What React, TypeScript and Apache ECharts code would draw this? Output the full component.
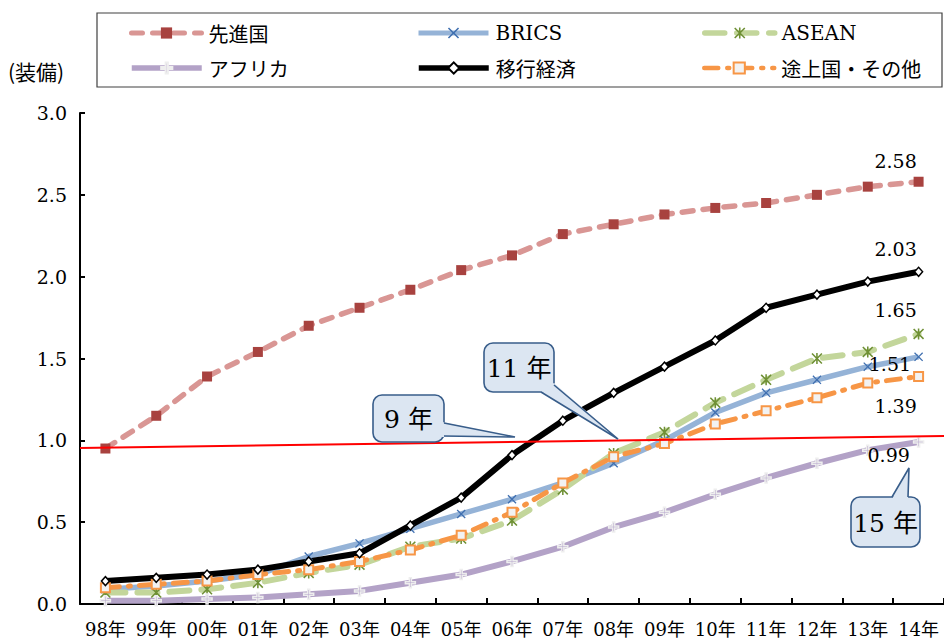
import React, { useEffect, useRef } from "react";
import * as echarts from "echarts";

const categories = ["98年", "99年", "00年", "01年", "02年", "03年", "04年", "05年", "06年", "07年", "08年", "09年", "10年", "11年", "12年", "13年", "14年"];
const developed = [0.95, 1.15, 1.39, 1.54, 1.70, 1.81, 1.92, 2.04, 2.13, 2.26, 2.32, 2.38, 2.42, 2.45, 2.50, 2.55, 2.58];
const brics = [0.09, 0.11, 0.14, 0.18, 0.29, 0.37, 0.46, 0.55, 0.64, 0.74, 0.86, 1.00, 1.17, 1.29, 1.37, 1.45, 1.51];
const asean = [0.07, 0.07, 0.09, 0.13, 0.19, 0.24, 0.35, 0.40, 0.51, 0.70, 0.92, 1.05, 1.23, 1.37, 1.50, 1.54, 1.65];
const africa = [0.02, 0.02, 0.03, 0.04, 0.06, 0.08, 0.13, 0.18, 0.26, 0.35, 0.47, 0.56, 0.67, 0.77, 0.86, 0.94, 0.99];
const transition = [0.14, 0.16, 0.18, 0.21, 0.26, 0.31, 0.48, 0.65, 0.91, 1.12, 1.29, 1.45, 1.61, 1.81, 1.89, 1.97, 2.03];
const developing = [0.10, 0.12, 0.14, 0.18, 0.21, 0.26, 0.33, 0.42, 0.56, 0.74, 0.90, 0.98, 1.10, 1.18, 1.26, 1.35, 1.39];
const yTicks = [0, 0.5, 1.0, 1.5, 2.0, 2.5, 3.0];

const seriesNames = ["先進国", "BRICS", "ASEAN", "アフリカ", "移行経済", "途上国・その他"];
const calloutTexts = ["9 年", "11 年", "15 年"];
const unitLabel = "(装備)";

const SERIF = '"DejaVu Serif", "Noto Sans CJK JP", serif';
const CJK = '"Noto Sans CJK JP", sans-serif';

const X_PATH = "path://M0,1 L1,0 L5,4 L9,0 L10,1 L6,5 L10,9 L9,10 L5,6 L1,10 L0,9 L4,5 Z";
const STAR_PATH =
  "path://M0,1 L1,0 L5,4 L9,0 L10,1 L6,5 L10,9 L9,10 L5,6 L1,10 L0,9 L4,5 Z M4.3,0 L5.7,0 L5.7,10 L4.3,10 Z";
const PLUS_PATH = "path://M4,0 L6,0 L6,4 L10,4 L10,6 L6,6 L6,10 L4,10 L4,6 L0,6 L0,4 L4,4 Z";

function lastLabel(values: number[], label: any) {
  return values.map((v, i) =>
    i === values.length - 1 ? { value: v, label: { show: true, ...label } } : v
  );
}

const labelFont = { fontFamily: SERIF, fontSize: 19, color: "#000" };

function callout(
  box: [number, number, number, number],
  text: string,
  fillPoly: number[][],
  sides: number[][]
) {
  const [x, y, w, h] = box;
  const stroke = "#385d8a";
  const fill = "#dce6f2";
  return [
    {
      type: "rect",
      shape: { x, y, width: w, height: h, r: 9 },
      style: { fill, stroke, lineWidth: 1.6 },
      z: 100,
    },
    {
      type: "polygon",
      shape: { points: fillPoly },
      style: { fill, stroke: "none" },
      z: 101,
    },
    {
      type: "polyline",
      shape: { points: sides },
      style: { fill: "none", stroke, lineWidth: 1.6 },
      z: 102,
    },
    {
      type: "text",
      x: x + w / 2,
      y: y + h / 2 + 1,
      style: {
        text,
        fontFamily: SERIF,
        fontSize: 25,
        fill: "#000",
        align: "center",
        verticalAlign: "middle",
      },
      z: 103,
    },
  ];
}

export default function App() {
  const ref = useRef<HTMLDivElement>(null);

  useEffect(() => {
    if (!ref.current) return;
    const chart = echarts.init(ref.current, null, { renderer: "svg" });

    const legendPos: [number, number][] = [
      [124, 18],
      [411, 18],
      [697, 18],
      [124, 53],
      [411, 53],
      [697, 53],
    ];
    const legendLineWidth = [5, 5, 5.5, 5.5, 5.5, 4.5];
    const legends = seriesNames.map((name, i) => ({
      data: [name],
      left: legendPos[i][0],
      top: legendPos[i][1],
      itemWidth: 70,
      itemHeight: 14,
      itemGap: 0,
      selectedMode: false,
      lineStyle: { width: legendLineWidth[i] },
      textStyle: { fontFamily: i === 1 || i === 2 ? SERIF : CJK, fontSize: 20, color: "#000", padding: [0, 0, 0, 2] },
    }));

    const option: any = {
      animation: false,
      backgroundColor: "#fff",
      legend: legends,
      grid: { left: 80, top: 113, bottom: 38, right: -15, containLabel: false },
      xAxis: {
        type: "category",
        data: categories,
        boundaryGap: true,
        axisLine: { lineStyle: { color: "#000", width: 2 } },
        axisTick: { show: true, inside: true, length: 6, lineStyle: { color: "#000", width: 2 } },
        axisLabel: { interval: 0, margin: 16, fontFamily: SERIF, fontSize: 18, color: "#000" },
        splitLine: { show: false },
      },
      yAxis: {
        type: "value",
        min: yTicks[0],
        max: yTicks[yTicks.length - 1],
        interval: 0.5,
        axisLine: { show: true, lineStyle: { color: "#000", width: 2 } },
        axisTick: { show: true, inside: true, length: 5, lineStyle: { color: "#000", width: 2 } },
        axisLabel: {
          margin: 13,
          fontFamily: SERIF,
          fontSize: 19,
          color: "#000",
          formatter: (v: number) => v.toFixed(1),
        },
        splitLine: { show: false },
      },
      graphic: [
        {
          type: "rect",
          shape: { x: 97, y: 13, width: 845, height: 74 },
          style: { fill: "none", stroke: "#404040", lineWidth: 1.2 },
          z: 0,
        },
        {
          type: "text",
          x: 8,
          y: 71,
          style: { text: unitLabel, fontFamily: CJK, fontSize: 21, fill: "#000", verticalAlign: "middle" },
        },
        ...callout(
          [373, 395, 71, 47],
          calloutTexts[0],
          [[442, 422], [515, 437], [442, 437]],
          [[444, 423], [515, 437], [444, 436]]
        ),
        ...callout(
          [484, 343, 70, 49],
          calloutTexts[1],
          [[539, 390], [554, 383], [618, 439]],
          [[541, 392], [618, 439], [554, 385]]
        ),
        ...callout(
          [851, 497, 69, 50],
          calloutTexts[2],
          [[892, 499], [908, 499], [909, 468]],
          [[892, 497], [909, 468], [908, 497]]
        ),
      ],
      series: [
        {
          name: seriesNames[0],
          type: "line",
          data: lastLabel(developed, { position: "top", distance: 6, offset: [-23, 0], ...labelFont }),
          symbol: "rect",
          symbolSize: 10,
          itemStyle: { color: "#a8423f" },
          lineStyle: { color: "#d99694", width: 5.5, type: [11, 10], cap: "round" },
          markLine: {
            silent: true,
            symbol: "none",
            label: { show: false },
            data: [
              [
                { x: 80, y: 448 },
                { x: 944, y: 436 },
              ],
              [
                { yAxis: 3, lineStyle: { color: "#8c8c8c", width: 2.5, type: "solid" } },
                { x: 944, yAxis: 3, lineStyle: { color: "#8c8c8c", width: 2.5, type: "solid" } },
              ],
            ],
            lineStyle: { color: "#ff0000", width: 2, type: "solid" },
          },
        },
        {
          name: seriesNames[1],
          type: "line",
          data: lastLabel(brics, { position: "left", distance: 3, offset: [0, 7], ...labelFont }),
          symbol: X_PATH,
          symbolSize: 9,
          itemStyle: { color: "#3f6fb0" },
          lineStyle: { color: "#95b3d7", width: 5.5, type: "solid" },
        },
        {
          name: seriesNames[2],
          type: "line",
          data: lastLabel(asean, { position: "top", distance: 9, offset: [-23, 0], ...labelFont }),
          symbol: STAR_PATH,
          symbolSize: 11,
          itemStyle: { color: "#6f9035" },
          lineStyle: { color: "#c3d69b", width: 6, type: [20, 12], cap: "round" },
        },
        {
          name: seriesNames[3],
          type: "line",
          data: lastLabel(africa, { position: "left", distance: 3, offset: [0, 13], ...labelFont }),
          symbol: PLUS_PATH,
          symbolSize: 10,
          itemStyle: { color: "#b7a6cc", borderColor: "#eeeeee", borderWidth: 1.5 },
          lineStyle: { color: "#b3a2c7", width: 6, type: "solid" },
        },
        {
          name: seriesNames[5],
          type: "line",
          data: lastLabel(developing, { position: "bottom", distance: 14, offset: [-23, 0], ...labelFont }),
          symbol: "rect",
          symbolSize: 9,
          itemStyle: { color: "#f2f2f2", borderColor: "#f79646", borderWidth: 2 },
          lineStyle: { color: "#f79646", width: 5, type: [14, 9, 2, 9], cap: "round" },
        },
        {
          name: seriesNames[4],
          type: "line",
          data: lastLabel(transition, { position: "top", distance: 8, offset: [-23, 0], ...labelFont }),
          symbol: "diamond",
          symbolSize: [8, 9],
          itemStyle: { color: "#ffffff", borderColor: "#000", borderWidth: 1.5 },
          lineStyle: { color: "#000", width: 6, type: "solid" },
          z: 3,
        },
      ],
    };

    chart.setOption(option);
    return () => chart.dispose();
  }, []);

  return <div ref={ref} style={{ width: 944, height: 642, position: "absolute", left: 0, top: 0 }} />;
}
